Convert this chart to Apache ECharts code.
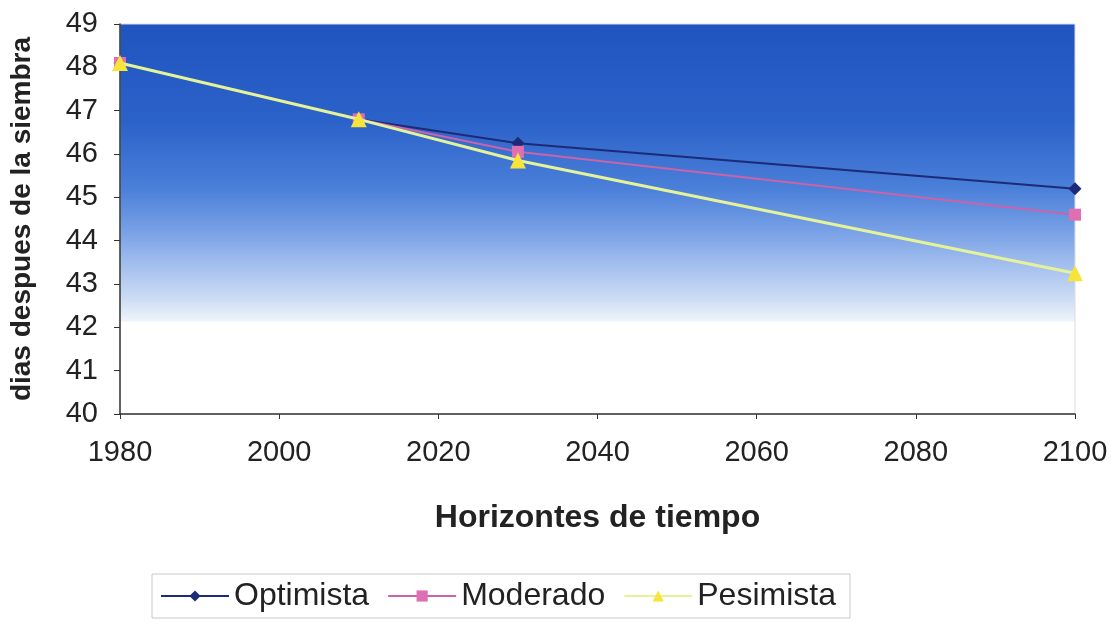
<!DOCTYPE html>
<html>
<head>
<meta charset="utf-8">
<title>Horizontes de tiempo</title>
<script src="https://cdn.jsdelivr.net/npm/echarts@6/dist/echarts.min.js"></script>
<style>
  html, body { margin: 0; padding: 0; background: #ffffff; }
  #chart { width: 1116px; height: 628px; }
</style>
</head>
<body>
<div id="chart"></div>
<script>
// Horizontes de tiempo (años)
const years = [1980, 2010, 2030, 2100];
// Días después de la siembra por escenario
const optimista = [48.1, 46.8, 46.25, 45.2];
const moderado  = [48.1, 46.8, 46.05, 44.6];
const pesimista = [48.1, 46.8, 45.85, 43.25];
const seriesNames = ['Optimista', 'Moderado', 'Pesimista'];

const FONT = "'Liberation Sans', Arial, sans-serif";

function pairs(values) {
  return years.map((y, i) => [y, values[i]]);
}

const chart = echarts.init(document.getElementById('chart'), null, { renderer: 'canvas' });

chart.setOption({
  animation: false,
  backgroundColor: '#ffffff',
  textStyle: { fontFamily: FONT, color: '#222' },
  grid: {
    left: 118, right: 41, top: 24, bottom: 214,
    show: true,
    borderWidth: 1,
    borderColor: '#dcdcdc',
    backgroundColor: new echarts.graphic.LinearGradient(0, 0, 0, 1, [
      { offset: 0.00, color: '#2054bf' },
      { offset: 0.25, color: '#2b62c9' },
      { offset: 0.42, color: '#4a7fd9' },
      { offset: 0.53, color: '#77a0e6' },
      { offset: 0.63, color: '#a9c3ef' },
      { offset: 0.71, color: '#d0def5' },
      { offset: 0.76, color: '#eef4fb' },
      { offset: 0.765, color: '#ffffff' },
      { offset: 1.00, color: '#ffffff' }
    ])
  },
  legend: {
    data: seriesNames,
    left: 152,
    top: 574,
    orient: 'horizontal',
    padding: [6, 14, 6, 8],
    itemGap: 18,
    itemWidth: 68,
    itemHeight: 14,
    borderColor: '#c8c8c8',
    borderWidth: 1,
    textStyle: { fontFamily: FONT, fontSize: 32, color: '#222' }
  },
  xAxis: {
    type: 'value',
    min: 1980,
    max: 2100,
    interval: 20,
    name: 'Horizontes de tiempo',
    nameLocation: 'middle',
    nameGap: 88,
    nameTextStyle: { fontFamily: FONT, fontSize: 32, fontWeight: 'bold', color: '#222' },
    axisLine: { show: true, lineStyle: { color: '#333', width: 1.5 } },
    axisTick: { show: true, inside: false, length: 5, lineStyle: { color: '#333' } },
    axisLabel: {
      fontFamily: FONT, fontSize: 29, color: '#222', margin: 24,
      formatter: v => String(v)
    },
    splitLine: { show: false }
  },
  yAxis: {
    type: 'value',
    min: 40,
    max: 49,
    interval: 1,
    name: 'dias despues de la siembra',
    nameLocation: 'middle',
    nameGap: 84,
    nameRotate: 90,
    nameTextStyle: { fontFamily: FONT, fontSize: 28, fontWeight: 'bold', color: '#222' },
    axisLine: { show: true, lineStyle: { color: '#333', width: 1.5 } },
    axisTick: { show: true, inside: false, length: 6, lineStyle: { color: '#333' } },
    axisLabel: { fontFamily: FONT, fontSize: 29, color: '#222', margin: 22 },
    splitLine: { show: false }
  },
  series: [
    {
      name: 'Optimista',
      type: 'line',
      data: pairs(optimista),
      symbol: 'diamond',
      symbolSize: 13,
      showAllSymbol: true,
      lineStyle: { color: '#1d2a78', width: 2 },
      itemStyle: { color: '#1d2a78' },
      z: 2
    },
    {
      name: 'Moderado',
      type: 'line',
      data: pairs(moderado),
      symbol: 'rect',
      symbolSize: 12,
      lineStyle: { color: '#c963aa', width: 2 },
      itemStyle: { color: '#df6fb3' },
      z: 3
    },
    {
      name: 'Pesimista',
      type: 'line',
      data: pairs(pesimista),
      symbol: 'triangle',
      symbolSize: 16,
      lineStyle: { color: '#e4f39a', width: 3 },
      itemStyle: { color: '#f7e43a' },
      z: 4
    }
  ]
});
</script>
</body>
</html>
